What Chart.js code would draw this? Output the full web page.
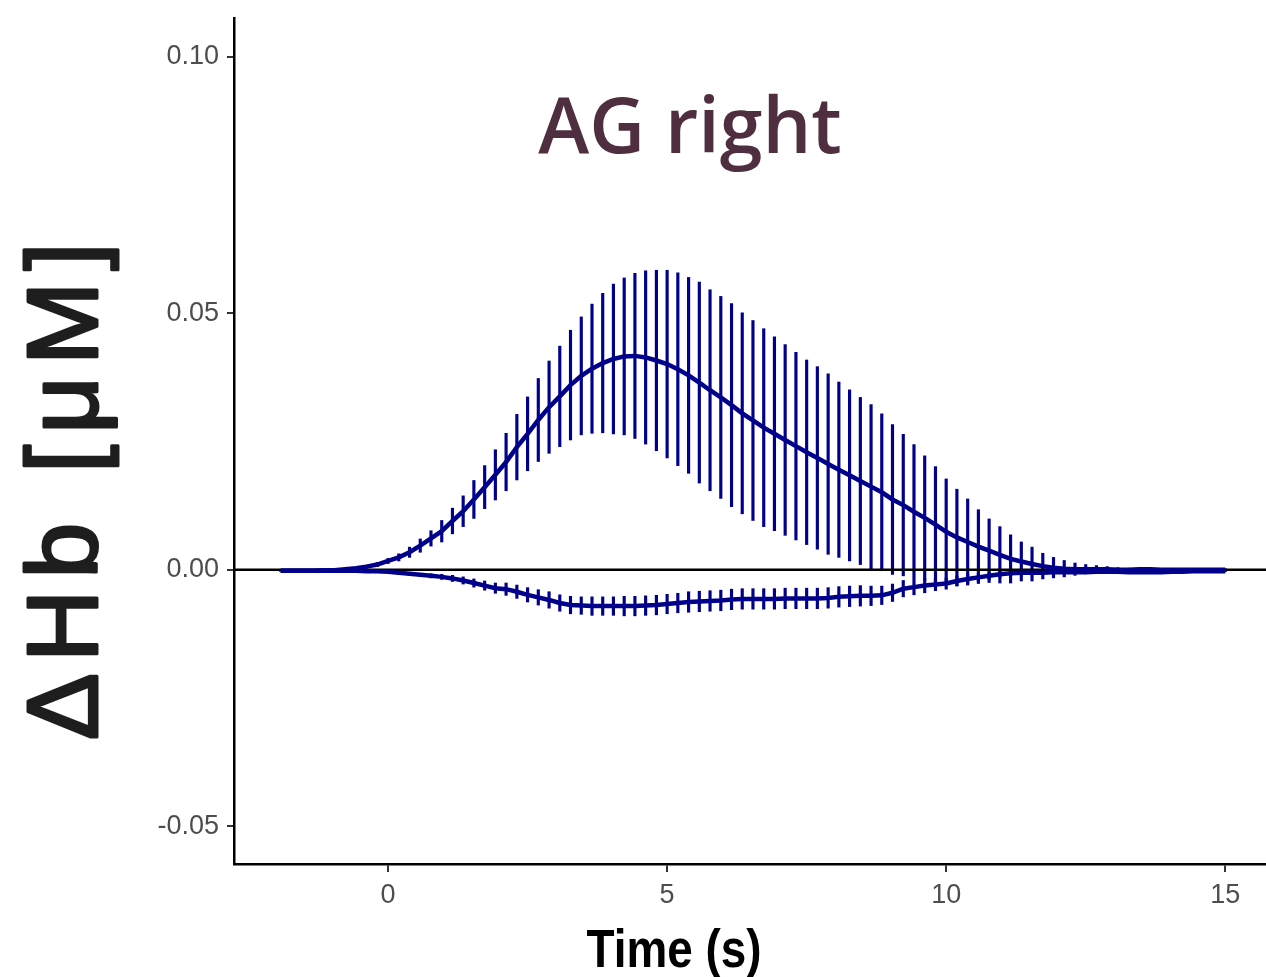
<!DOCTYPE html>
<html lang="en">
<head>
  <meta charset="UTF-8" />
  <title>AG right</title>
  <script src="https://cdn.jsdelivr.net/npm/chart.js"></script>
  <style>
    html, body { margin: 0; padding: 0; background: #fff; }
    #wrap { width: 1266px; height: 977px; }
  </style>
</head>
<body>
  <div id="wrap"><canvas id="hbChart" width="1266" height="977"></canvas></div>

  <script>
    // sample times (s), 5.2 Hz
    const timeS = [
      -1.923, -1.731, -1.538, -1.346, -1.154, -0.962, -0.769, -0.577, -0.385, -0.192,
      0, 0.192, 0.385, 0.577, 0.769, 0.962, 1.154, 1.346, 1.538, 1.731,
      1.923, 2.115, 2.308, 2.5, 2.692, 2.885, 3.077, 3.269, 3.462, 3.654,
      3.846, 4.038, 4.231, 4.423, 4.615, 4.808, 5, 5.192, 5.385, 5.577,
      5.769, 5.962, 6.154, 6.346, 6.538, 6.731, 6.923, 7.115, 7.308, 7.5,
      7.692, 7.885, 8.077, 8.269, 8.462, 8.654, 8.846, 9.038, 9.231, 9.423,
      9.615, 9.808, 10, 10.192, 10.385, 10.577, 10.769, 10.962, 11.154, 11.346,
      11.538, 11.731, 11.923, 12.115, 12.308, 12.5, 12.692, 12.885, 13.077, 13.269,
      13.462, 13.654, 13.846, 14.038, 14.231, 14.423, 14.615, 14.808, 15
    ];

    // oxy-Hb mean and error
    const hboMean = [
      -0.0002, -0.0002, -0.0002, -0.0002, -0.0001, -0.0001, 0.0001, 0.0003, 0.0006, 0.0010,
      0.0017, 0.0024, 0.0034, 0.0047, 0.0061, 0.0075, 0.0095, 0.0114, 0.0137, 0.0161,
      0.0185, 0.0210, 0.0239, 0.0265, 0.0292, 0.0317, 0.0338, 0.0360, 0.0378, 0.0392,
      0.0403, 0.0411, 0.0416, 0.0417, 0.0414, 0.0408, 0.0401, 0.0391, 0.0379, 0.0365,
      0.0350, 0.0336, 0.0321, 0.0305, 0.0291, 0.0277, 0.0265, 0.0253, 0.0241, 0.0229,
      0.0218, 0.0206, 0.0195, 0.0184, 0.0173, 0.0162, 0.0151, 0.0137, 0.0126, 0.0113,
      0.0101, 0.0088, 0.0074, 0.0063, 0.0054, 0.0045, 0.0037, 0.0029, 0.0021, 0.0016,
      0.0011, 0.0007, 0.0004, 0.0002, 0.0001, 0.0001, 0.0001, 0.0001, 0.0000, 0.0000,
      0.0001, 0.0001, 0.0000, 0.0000, 0.0000, 0.0000, 0.0000, 0.0000, 0.0000
    ];
    const hboErr = [
      0.0001, 0.0001, 0.0001, 0.0001, 0.0001, 0.0001, 0.0002, 0.0002, 0.0003, 0.0004,
      0.0005, 0.0007, 0.0010, 0.0013, 0.0015, 0.0021, 0.0025, 0.0030, 0.0037, 0.0042,
      0.0049, 0.0056, 0.0064, 0.0072, 0.0081, 0.0090, 0.0098, 0.0107, 0.0115, 0.0126,
      0.0136, 0.0146, 0.0153, 0.0161, 0.0169, 0.0176, 0.0183, 0.0188, 0.0191, 0.0196,
      0.0196, 0.0197, 0.0198, 0.0196, 0.0195, 0.0193, 0.0189, 0.0186, 0.0183, 0.0180,
      0.0178, 0.0176, 0.0171, 0.0167, 0.0163, 0.0160, 0.0153, 0.0146, 0.0138, 0.0131,
      0.0121, 0.0113, 0.0103, 0.0094, 0.0084, 0.0072, 0.0062, 0.0055, 0.0047, 0.0038,
      0.0033, 0.0025, 0.0020, 0.0016, 0.0012, 0.0009, 0.0007, 0.0005, 0.0004, 0.0003,
      0.0003, 0.0003, 0.0002, 0.0002, 0.0002, 0.0002, 0.0002, 0.0002, 0.0002
    ];

    // deoxy-Hb mean and error
    const hbrMean = [
      -0.0002, -0.0002, -0.0002, -0.0002, -0.0002, -0.0002, -0.0002, -0.0002, -0.0003, -0.0003,
      -0.0004, -0.0006, -0.0008, -0.0010, -0.0012, -0.0014, -0.0017, -0.0021, -0.0026, -0.0031,
      -0.0036, -0.0038, -0.0043, -0.0049, -0.0054, -0.0059, -0.0065, -0.0069, -0.0070, -0.0071,
      -0.0071, -0.0071, -0.0071, -0.0071, -0.0070, -0.0069, -0.0067, -0.0065, -0.0063, -0.0062,
      -0.0061, -0.0060, -0.0058, -0.0057, -0.0057, -0.0057, -0.0057, -0.0056, -0.0056, -0.0056,
      -0.0056, -0.0055, -0.0053, -0.0052, -0.0051, -0.0051, -0.0050, -0.0045, -0.0037, -0.0034,
      -0.0031, -0.0029, -0.0027, -0.0022, -0.0018, -0.0015, -0.0012, -0.0009, -0.0007, -0.0006,
      -0.0006, -0.0006, -0.0005, -0.0005, -0.0005, -0.0005, -0.0004, -0.0004, -0.0004, -0.0005,
      -0.0005, -0.0005, -0.0005, -0.0004, -0.0004, -0.0003, -0.0003, -0.0003, -0.0003
    ];
    const hbrErr = [
      0.0001, 0.0001, 0.0001, 0.0001, 0.0001, 0.0001, 0.0001, 0.0001, 0.0001, 0.0001,
      0.0002, 0.0002, 0.0003, 0.0003, 0.0004, 0.0005, 0.0006, 0.0007, 0.0008, 0.0009,
      0.0010, 0.0012, 0.0013, 0.0014, 0.0015, 0.0016, 0.0016, 0.0017, 0.0017, 0.0018,
      0.0018, 0.0018, 0.0019, 0.0019, 0.0019, 0.0019, 0.0019, 0.0019, 0.0020, 0.0020,
      0.0020, 0.0020, 0.0020, 0.0020, 0.0020, 0.0020, 0.0020, 0.0020, 0.0020, 0.0020,
      0.0020, 0.0020, 0.0020, 0.0020, 0.0020, 0.0019, 0.0018, 0.0017, 0.0016, 0.0015,
      0.0014, 0.0012, 0.0011, 0.0010, 0.0009, 0.0008, 0.0007, 0.0006, 0.0005, 0.0005,
      0.0004, 0.0003, 0.0003, 0.0003, 0.0002, 0.0002, 0.0002, 0.0002, 0.0002, 0.0002,
      0.0002, 0.0001, 0.0001, 0.0001, 0.0001, 0.0001, 0.0001, 0.0001, 0.0001
    ];

    const xTicks = [0, 5, 10, 15];
    const yTicks = [-0.05, 0, 0.05, 0.10];
    const xRange = [-2.76, 15.73];
    const yRange = [-0.0574, 0.1076];

    const panelTitle = 'AG right';
    const yTitle = 'ΔHb [μM]';
    const xTitle = 'Time (s)';

    const navy = '#00008b';

    function points(ys) {
      return timeS.map((t, i) => ({ x: t, y: ys[i] }));
    }
    function errBars(m, e) {
      return timeS.map((t, i) => ({ x: t, y: [m[i] - e[i], m[i] + e[i]] }));
    }

    // panel label, rotated y title and x title drawn over the chart
    const textPlugin = {
      id: 'panelText',
      afterDraw(chart) {
        const ctx = chart.ctx;
        ctx.save();
        ctx.fillStyle = '#4f2f3f';
        ctx.font = '600 77px "Open Sans", "Noto Sans", sans-serif';
        ctx.textAlign = 'center';
        ctx.textBaseline = 'alphabetic';
        ctx.fillText(panelTitle, 690, 153);
        ctx.restore();

        // x title, a bit condensed
        ctx.save();
        ctx.font = 'bold 54px "Liberation Sans", Arial, sans-serif';
        ctx.fillStyle = '#000';
        ctx.textAlign = 'center';
        ctx.textBaseline = 'alphabetic';
        ctx.translate(674, 967);
        ctx.scale(0.85, 1);
        ctx.fillText(xTitle, 0, 0);
        ctx.restore();

        // y title
        ctx.save();
        ctx.translate(97, 740);
        ctx.rotate(-Math.PI / 2);
        ctx.font = '100px "Liberation Sans", Arial, sans-serif';
        ctx.fillStyle = '#1e1e1e';
        ctx.strokeStyle = '#1e1e1e';
        ctx.lineWidth = 3;
        ctx.lineJoin = 'round';
        ctx.textAlign = 'left';
        if ('letterSpacing' in ctx) {
          const w = ctx.measureText(yTitle).width;
          const gap = Math.max(0, (497 - w) / (yTitle.length - 1));
          ctx.letterSpacing = gap.toFixed(1) + 'px';
        }
        ctx.fillText(yTitle, 0, 0);
        ctx.strokeText(yTitle, 0, 0);
        ctx.restore();
      }
    };

    const tickFont = { family: '"Liberation Sans", Arial, sans-serif', size: 27 };

    new Chart(document.getElementById('hbChart').getContext('2d'), {
      type: 'line',
      data: {
        datasets: [
          { label: 'HbO', data: points(hboMean), borderColor: navy, borderWidth: 4.5, pointRadius: 0, order: 0 },
          { label: 'HbR', data: points(hbrMean), borderColor: navy, borderWidth: 4.5, pointRadius: 0, order: 0 },
          { label: 'zero', data: [{ x: xRange[0], y: 0 }, { x: xRange[1], y: 0 }], borderColor: '#000', borderWidth: 2.5, pointRadius: 0, order: 1 },
          { type: 'bar', label: 'HbO err', data: errBars(hboMean, hboErr), backgroundColor: navy, barThickness: 2.5, grouped: false, order: 2 },
          { type: 'bar', label: 'HbR err', data: errBars(hbrMean, hbrErr), backgroundColor: navy, barThickness: 2.5, grouped: false, order: 2 }
        ]
      },
      options: {
        responsive: false,
        animation: false,
        devicePixelRatio: 1,
        layout: { padding: { top: 18, right: 0, bottom: 0, left: 0 } },
        plugins: { legend: { display: false }, tooltip: { enabled: false } },
        scales: {
          x: {
            type: 'linear',
            min: xRange[0],
            max: xRange[1],
            offset: false,
            afterFit: s => { s.height = 113; },
            afterBuildTicks: s => { s.ticks = xTicks.map(v => ({ value: v })); },
            grid: { drawOnChartArea: false, offset: false, tickLength: 8, color: '#333', lineWidth: 2 },
            border: { color: '#000', width: 2.5 },
            ticks: { color: '#4d4d4d', font: tickFont, padding: 7, maxRotation: 0, callback: v => String(v) }
          },
          y: {
            type: 'linear',
            min: yRange[0],
            max: yRange[1],
            afterFit: s => { s.width = 234; s.paddingTop = 0; s.paddingBottom = 0; },
            afterBuildTicks: s => { s.ticks = yTicks.map(v => ({ value: v })); },
            grid: { drawOnChartArea: false, tickLength: 7, color: '#333', lineWidth: 2 },
            border: { color: '#000', width: 2.5 },
            ticks: { color: '#4d4d4d', font: tickFont, padding: 8, callback: v => Number(v).toFixed(2) }
          }
        }
      },
      plugins: [textPlugin]
    });
  </script>
</body>
</html>
